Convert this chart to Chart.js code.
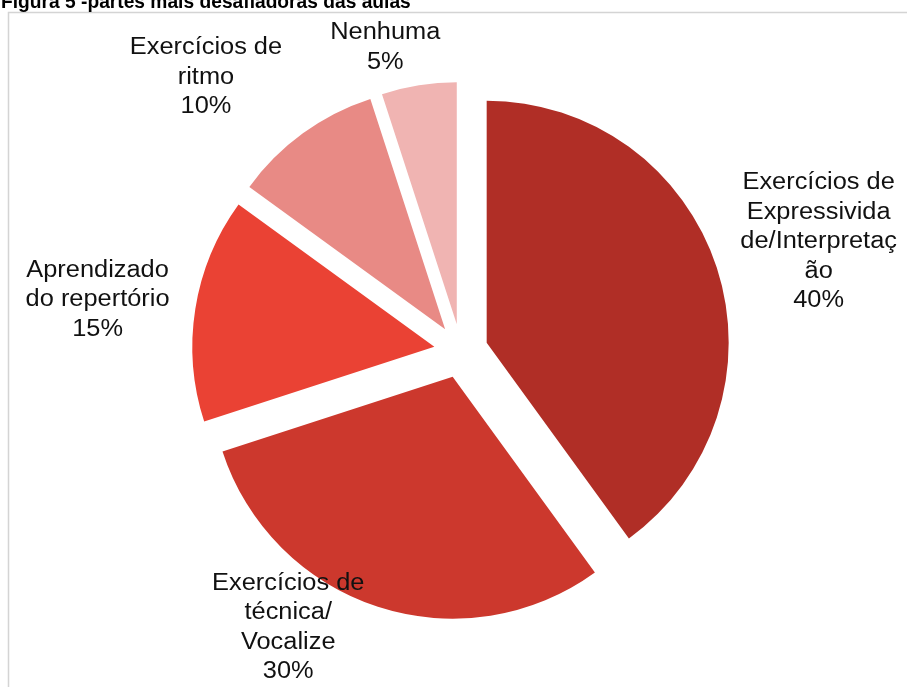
<!DOCTYPE html>
<html>
<head>
<meta charset="utf-8">
<script src="https://cdn.jsdelivr.net/npm/chart.js@4/dist/chart.umd.min.js"></script>
<style>
  html, body { margin: 0; padding: 0; background: #fff; }
  canvas { display: block; }
</style>
</head>
<body>
<canvas id="chart" width="907" height="687"></canvas>
<script>
// Categories, in drawing order (clockwise from 12 o'clock)
const categories = [
  'Exercícios de Expressividade/Interpretação',
  'Exercícios de técnica/ Vocalize',
  'Aprendizado do repertório',
  'Exercícios de ritmo',
  'Nenhuma'
];
// Category text as it is wrapped next to each slice
const labelLines = [
  ['Exercícios de', 'Expressivida', 'de/Interpretaç', 'ão'],
  ['Exercícios de', 'técnica/', 'Vocalize'],
  ['Aprendizado', 'do repertório'],
  ['Exercícios de', 'ritmo'],
  ['Nenhuma']
];
// Share of answers (%)
const shares = [40, 30, 15, 10, 5];
const sliceColors = ['#b02e26', '#cc382d', '#ea4234', '#e88a85', '#f0b4b2'];
const titleText = 'Figura 5 -partes mais desafiadoras das aulas';

// Label anchors: turn from the slice middle (degrees) and distance from the pie centre
const labelAngleShift = [1, 14, -1, -7, -5];
const labelDistance = [374, 326, 367, 374, 313];

const FONT = '"Liberation Sans", Arial, sans-serif';

// Pulls every slice away from the centre along its own middle angle
const explodePlugin = {
  id: 'explode',
  afterDatasetsUpdate(chart, args, opts) {
    chart.getDatasetMeta(0).data.forEach(arc => {
      const mid = (arc.startAngle + arc.endAngle) / 2;
      arc.$cx = arc.x;
      arc.$cy = arc.y;
      arc.x += Math.cos(mid) * opts.distance;
      arc.y += Math.sin(mid) * opts.distance;
    });
  }
};

// White page with the light grey frame around the chart, and the figure caption
const framePlugin = {
  id: 'frame',
  beforeDraw(chart) {
    const ctx = chart.ctx;
    ctx.save();
    ctx.fillStyle = '#ffffff';
    ctx.fillRect(0, 0, chart.width, chart.height);
    ctx.strokeStyle = '#d4d4d4';
    ctx.lineWidth = 1.5;
    ctx.strokeRect(8.5, 12.5, chart.width + 20, chart.height + 20);
    ctx.restore();
  },
  afterDraw(chart) {
    const ctx = chart.ctx;
    ctx.save();
    ctx.fillStyle = '#000000';
    ctx.font = 'bold 20px ' + FONT;
    ctx.textBaseline = 'alphabetic';
    ctx.textAlign = 'left';
    ctx.translate(1, 8);
    ctx.scale(0.96, 1);
    ctx.fillText(titleText, 0, 0);
    ctx.restore();
  }
};

// Category name and percentage beside each slice
const sliceLabelPlugin = {
  id: 'sliceLabels',
  afterDatasetsDraw(chart, args, opts) {
    const ctx = chart.ctx;
    const values = chart.data.datasets[0].data;
    const total = values.reduce((a, b) => a + b, 0);
    ctx.save();
    ctx.fillStyle = opts.color;
    ctx.font = opts.size + 'px ' + FONT;
    ctx.textAlign = 'center';
    ctx.textBaseline = 'middle';
    chart.getDatasetMeta(0).data.forEach((arc, i) => {
      const mid = (arc.startAngle + arc.endAngle) / 2 + labelAngleShift[i] * Math.PI / 180;
      const x = arc.$cx + Math.cos(mid) * labelDistance[i];
      const y = arc.$cy + Math.sin(mid) * labelDistance[i];
      const lines = labelLines[i].concat([Math.round(values[i] / total * 100) + '%']);
      const top = y - (lines.length - 1) * opts.lineHeight / 2;
      lines.forEach((t, k) => {
        ctx.save();
        ctx.translate(x, top + k * opts.lineHeight);
        ctx.scale(opts.stretch, 1);
        ctx.fillText(t, 0, 0);
        ctx.restore();
      });
    });
    ctx.restore();
  }
};

new Chart(document.getElementById('chart'), {
  type: 'pie',
  data: {
    labels: categories,
    datasets: [{
      data: shares,
      backgroundColor: sliceColors,
      borderWidth: 0
    }]
  },
  options: {
    responsive: false,
    devicePixelRatio: 1,
    animation: false,
    events: [],
    radius: 242,
    layout: { padding: { left: 15, top: 15, right: 0, bottom: 0 } },
    plugins: {
      legend: { display: false },
      tooltip: { enabled: false },
      explode: { distance: 27 },
      sliceLabels: { color: '#111111', size: 23.5, lineHeight: 29.5, stretch: 1.08 }
    }
  },
  plugins: [framePlugin, explodePlugin, sliceLabelPlugin]
});
</script>
</body>
</html>
